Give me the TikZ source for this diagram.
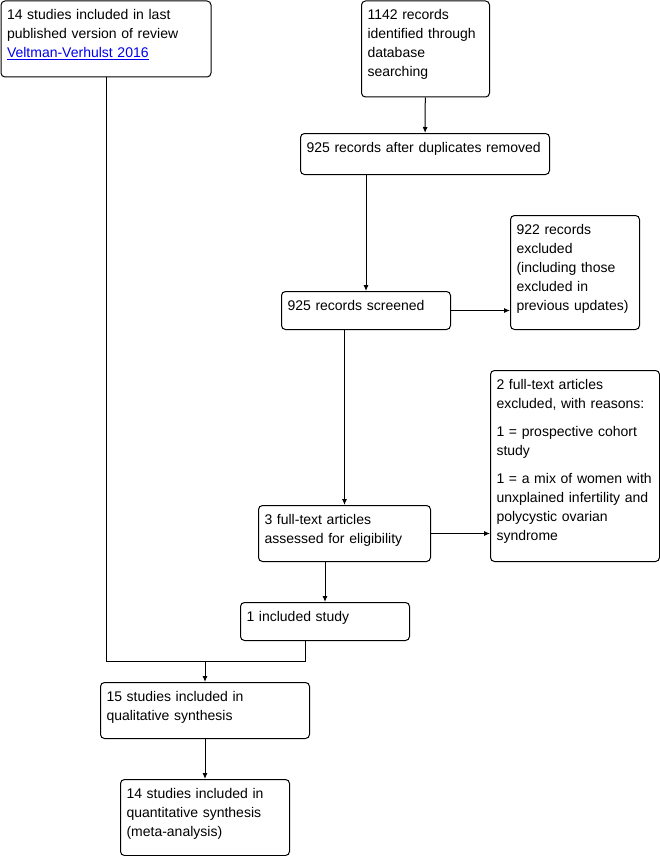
\documentclass[tikz,border=0pt]{standalone}
\usepackage{fontspec}
\setmainfont{Liberation Sans}
\usepackage{xcolor,tikz}
\usetikzlibrary{arrows.meta,positioning,calc}
\definecolor{Link}{HTML}{0000EE}

\begin{document}
\begin{tikzpicture}[x=1pt,y=-1pt,
box/.style={draw,line width=1pt,rounded corners=4pt,anchor=north west,align=left,inner xsep=6pt,inner ysep=5pt,text height=14pt,font=\fontsize{14}{19}\selectfont},
deep/.style={text depth=#1pt-24pt},
arr/.style={-{Latex[length=6pt,width=5pt]},line width=1pt},
link/.style={line width=1pt}]
\useasboundingbox (0,0) rectangle (660,856);
% boxes, left column first
\node[box,deep=76,text width=198] (prev) at (0.5,0.5) {14 studies included in last\\published version of review\\\textcolor{Link}{\underline{Veltman-Verhulst 2016}}};
\node[box,deep=96,text width=116] (found) at (361,0.5) {1142 records\\identified through\\database\\searching};
\node[box,deep=41,text width=237] (dedup) at (300,133) {925 records after duplicates removed};
\node[box,deep=114,text width=117] (excl) at (510,215) {922 records\\excluded\\(including those\\excluded in\\previous updates)};
\node[box,deep=38,text width=157] (screen) at (281,291) {925 records screened};
\node[box,deep=191,text width=157] (ftexcl) at (490,370) {2 full-text articles\\excluded, with reasons:\\[9pt]1 = prospective cohort\\study\\[9pt]1 = a mix of women with\\unxplained infertility and\\polycystic ovarian\\syndrome};
\node[box,deep=56,text width=160] (elig) at (258,505) {3 full-text articles\\assessed for eligibility};
\node[box,deep=38,text width=157] (incl) at (240,602) {1 included study};
\node[box,deep=56,text width=197] (qual) at (100,682) {15 studies included in\\qualitative synthesis};
\node[box,deep=76,text width=157] (quant) at (120,779) {14 studies included in\\quantitative synthesis\\(meta-analysis)};
\coordinate (join) at (205,661);
% connectors
\draw[arr] (found)--(dedup);
\draw[arr] (dedup.south -| screen.north)--(screen);
\draw[arr] (screen.east)--(screen.east -| excl.west);
\draw[arr] (screen.south -| elig.north)--(elig);
\draw[arr] (elig.east)--(elig.east -| ftexcl.west);
\draw[arr] (elig.south -| incl.north)--(incl);
\draw[link] (prev.south) |- (join);
\draw[arr] ($(incl.south west)+(65,0)$) |- (join) -- (qual.north);
\draw[arr] (qual)--(quant);
\end{tikzpicture}
\end{document}
